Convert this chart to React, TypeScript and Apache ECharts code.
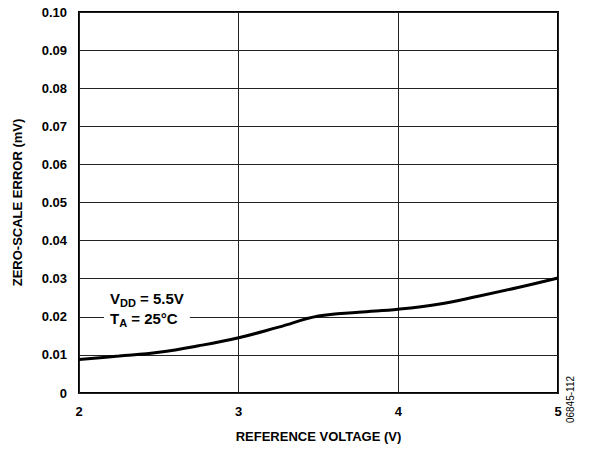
import React, { useEffect, useRef } from "react";
import * as echarts from "echarts";

const voltages = [2.0, 2.25, 2.5, 2.75, 3.0, 3.25, 3.5, 3.75, 4.0, 4.25, 4.5, 4.75, 5.0];
const zeroScaleError = [0.0088, 0.0097, 0.0107, 0.0124, 0.0145, 0.0173, 0.0202, 0.0212, 0.022, 0.0233, 0.0254, 0.0277, 0.0302];
const xTicks = [2, 3, 4, 5];
const yTicks = [0, 0.01, 0.02, 0.03, 0.04, 0.05, 0.06, 0.07, 0.08, 0.09, 0.1];

const FONT = "'Liberation Sans', Arial, sans-serif";

export default function App() {
  const ref = useRef<HTMLDivElement>(null);
  useEffect(() => {
    document.body.style.margin = "0";
    const chart = echarts.init(ref.current!, null, { renderer: "svg" });
    const left = 79, top = 12, right = 32, bottom = 57;
    chart.setOption({
      animation: false,
      backgroundColor: "#fff",
      grid: { left, top, right, bottom, show: true, borderColor: "#000", borderWidth: 2, backgroundColor: "transparent" },
      xAxis: {
        type: "value",
        min: xTicks[0],
        max: xTicks[xTicks.length - 1],
        interval: 1,
        name: "REFERENCE VOLTAGE (V)",
        nameLocation: "middle",
        nameGap: 37,
        nameTextStyle: { fontFamily: FONT, fontWeight: "bold", fontSize: 13, color: "#000" },
        axisLine: { show: false },
        axisTick: { show: false },
        axisLabel: { fontFamily: FONT, fontWeight: "bold", fontSize: 13, color: "#000", margin: 12 },
        splitLine: { show: true, lineStyle: { color: "#222", width: 1 } },
      },
      yAxis: {
        type: "value",
        min: yTicks[0],
        max: yTicks[yTicks.length - 1],
        interval: 0.01,
        name: "ZERO-SCALE ERROR (mV)",
        nameLocation: "middle",
        nameGap: 55,
        nameTextStyle: { fontFamily: FONT, fontWeight: "bold", fontSize: 13, color: "#000" },
        axisLine: { show: false },
        axisTick: { show: false },
        axisLabel: {
          fontFamily: FONT,
          fontWeight: "bold",
          fontSize: 13,
          color: "#000",
          margin: 12,
          formatter: (v: number) => (v === 0 ? "0" : v.toFixed(2)),
        },
        splitLine: { show: true, lineStyle: { color: "#222", width: 1 } },
      },
      series: [
        {
          type: "line",
          data: voltages.map((v, i) => [v, zeroScaleError[i]]),
          smooth: 0.4,
          showSymbol: false,
          lineStyle: { color: "#000", width: 3 },
          z: 5,
        },
      ],
      graphic: [
        {
          type: "text",
          left: 104,
          top: 288,
          z: 10,
          style: {
            text: "{b|V}{s|DD}{b| = 5.5V}\n{b|T}{s|A}{b| = 25°C}",
            backgroundColor: "#fff",
            padding: [0, 6, 0, 6],
            lineHeight: 20,
            rich: {
              b: { fontFamily: FONT, fontWeight: "bold", fontSize: 15, fill: "#000", lineHeight: 20 },
              s: { fontFamily: FONT, fontWeight: "bold", fontSize: 11, fill: "#000", verticalAlign: "bottom", padding: [7, 0, 0, 0], lineHeight: 20 },
            },
          },
        },
        {
          type: "text",
          left: 565,
          top: 376,
          rotation: Math.PI / 2,
          style: {
            text: "06845-112",
            fontFamily: FONT,
            fontSize: 10,
            fill: "#000",
          },
        },
      ],
    });
    return () => chart.dispose();
  }, []);
  return <div ref={ref} style={{ width: 590, height: 450 }} />;
}
